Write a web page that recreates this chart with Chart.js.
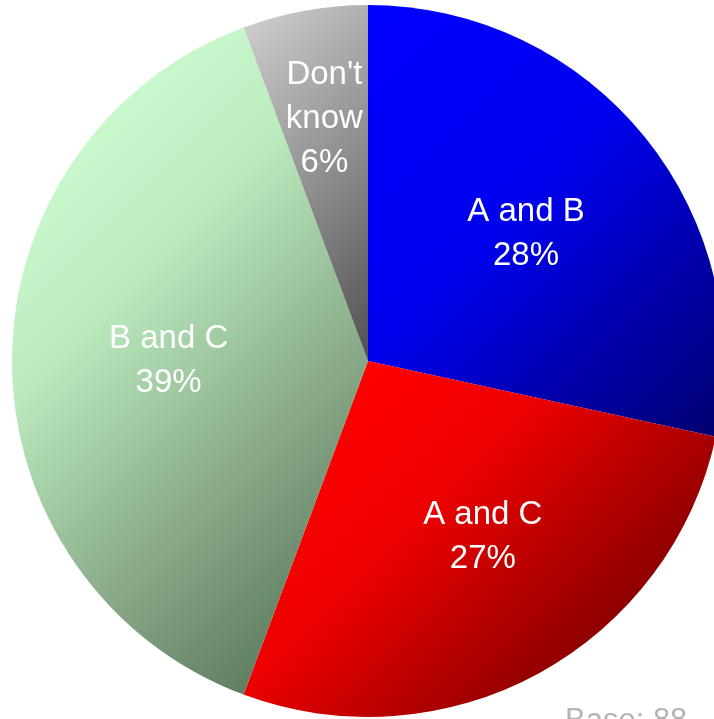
<!DOCTYPE html>
<html>
<head>
<meta charset="utf-8">
<script src="https://cdn.jsdelivr.net/npm/chart.js@4/dist/chart.umd.min.js"></script>
<style>
    html, body { margin: 0; padding: 0; width: 714px; height: 719px; overflow: hidden; background: #ffffff; }
    #wrap { position: absolute; left: 12px; top: 5px; width: 712px; height: 712px; }
    #base {
        position: absolute; left: 565px; top: 704px;
        font-family: "Liberation Sans", Arial, sans-serif; font-size: 31px; line-height: 31px;
        color: #b4b4b4; white-space: nowrap;
    }
</style>
</head>
<body>
<div id="wrap"><canvas id="pie"></canvas></div>
<div id="base">Base: 88</div>
<script>
// 응답 데이터 (Base: 88)
const categories = ['A and B', 'A and C', 'B and C', "Don't know"];
const counts = [25, 24, 34, 5];
const baseTotal = 88;

// 조각별 그라데이션 색 [위치, 색] (왼쪽 위 -> 오른쪽 아래)
const sliceColors = [
    [[0, '#0000ff'], [0.45, '#0000ee'], [1, '#000070']],
    [[0, '#ff0000'], [0.4, '#ee0000'], [1, '#8e0000']],
    [[0, '#c8f8cc'], [0.25, '#bcecbe'], [0.7, '#86a686'], [1, '#607e60']],
    [[0, '#cccccc'], [1, '#505050']]
];

// 라벨 위치 (반지름 비율, 각도 보정)
const labelPlace = [
    { r: 0.57, shift: 0 },
    { r: 0.59, shift: -4.5 },
    { r: 0.56, shift: 0 },
    { r: 0.69, shift: 0 }
];

function sliceAngles() {
    const total = counts.reduce((a, b) => a + b, 0);
    const out = [];
    let a = -Math.PI / 2;
    counts.forEach(v => {
        const span = v / total * Math.PI * 2;
        out.push([a, a + span]);
        a += span;
    });
    return out;
}

// 45도 대각선 방향 그라데이션 (조각 범위에 맞춤)
function sliceGradient(context) {
    const chart = context.chart;
    const area = chart.chartArea;
    const i = context.dataIndex;
    if (!area) return sliceColors[i][0][1];
    const cx = (area.left + area.right) / 2;
    const cy = (area.top + area.bottom) / 2;
    const r = Math.min(area.right - area.left, area.bottom - area.top) / 2;
    const [a0, a1] = sliceAngles()[i];
    let sMin = cx + cy, sMax = cx + cy, px = cx, py = cy;
    for (let k = 0; k <= 120; k++) {
        const a = a0 + (a1 - a0) * k / 120;
        const x = cx + Math.cos(a) * r, y = cy + Math.sin(a) * r;
        if (x + y < sMin) { sMin = x + y; px = x; py = y; }
        if (x + y > sMax) sMax = x + y;
    }
    const d = (sMax - sMin) / 2;
    const g = chart.ctx.createLinearGradient(px, py, px + d, py + d);
    sliceColors[i].forEach(([t, c]) => g.addColorStop(t, c));
    return g;
}

const labelPlugin = {
    id: 'sliceLabels',
    afterDatasetsDraw(chart) {
        const ctx = chart.ctx;
        const arcs = chart.getDatasetMeta(0).data;
        ctx.save();
        ctx.fillStyle = '#ffffff';
        ctx.font = '33px "Liberation Sans", Arial, sans-serif';
        ctx.textAlign = 'center';
        ctx.textBaseline = 'middle';
        arcs.forEach((arc, i) => {
            const p = arc.getProps(['x', 'y', 'startAngle', 'endAngle', 'outerRadius'], true);
            const mid = (p.startAngle + p.endAngle) / 2 + labelPlace[i].shift * Math.PI / 180;
            const rr = p.outerRadius * labelPlace[i].r;
            const x = p.x + Math.cos(mid) * rr;
            const y = p.y + Math.sin(mid) * rr;
            const pct = Math.round(counts[i] / baseTotal * 100) + '%';
            const lines = categories[i] === "Don't know" ? ["Don't", 'know', pct] : [categories[i], pct];
            const lh = 44;
            const top = y - (lines.length - 1) * lh / 2;
            lines.forEach((t, j) => ctx.fillText(t, x, top + j * lh));
        });
        ctx.restore();
    }
};

new Chart(document.getElementById('pie').getContext('2d'), {
    type: 'pie',
    data: {
        labels: categories,
        datasets: [{
            data: counts,
            backgroundColor: sliceGradient,
            borderWidth: 0
        }]
    },
    options: {
        responsive: true,
        maintainAspectRatio: false,
        animation: false,
        layout: { padding: 0 },
        plugins: {
            legend: { display: false },
            tooltip: { enabled: false }
        }
    },
    plugins: [labelPlugin]
});
</script>
</body>
</html>
